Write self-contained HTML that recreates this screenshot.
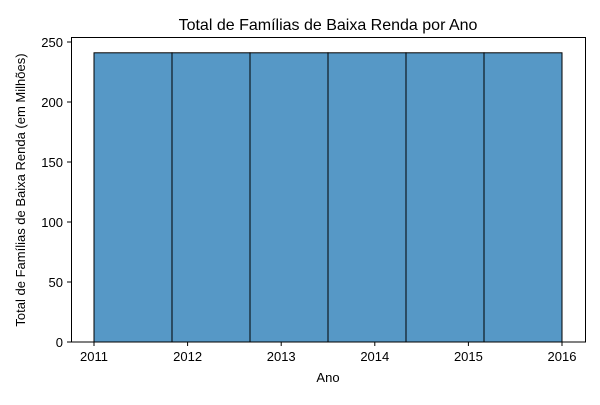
<!DOCTYPE html>
<html><head><meta charset="utf-8"><style>
body{margin:0;background:#fff;font-family:"Liberation Sans","DejaVu Sans",sans-serif}
</style></head><body>
<svg width="600" height="400" xmlns="http://www.w3.org/2000/svg">
<rect x="0" y="0" width="600" height="400" fill="#fff"/>
<g id="bars"></g>
<g id="axes"></g>
<rect x="71.5" y="37.5" width="514" height="304.5" fill="none" stroke="#000" stroke-width="1"/>
<text x="328" y="30" text-anchor="middle" font-size="16">Total de Famílias de Baixa Renda por Ano</text>
<text x="328" y="382" text-anchor="middle" font-size="13">Ano</text>
<text transform="translate(25,190) rotate(-90)" text-anchor="middle" font-size="13">Total de Famílias de Baixa Renda (em Milhões)</text>
</svg>
<script>
const binStarts=[2011,2011.8333,2012.6667,2013.5,2014.3333,2015.1667];
const binWidth=5/6;
const counts=[241,241,241,241,241,241];
const xTicks=[2011,2012,2013,2014,2015,2016];
const yTicks=[0,50,100,150,200,250];
const NS="http://www.w3.org/2000/svg";
const xs=v=>94+(v-2011)*93.6;
const ys=v=>342-v*1.2;
const bars=document.getElementById('bars');
binStarts.forEach((b,i)=>{
const r=document.createElementNS(NS,'rect');
r.setAttribute('x',xs(b));r.setAttribute('y',ys(counts[i]));
r.setAttribute('width',xs(b+binWidth)-xs(b));r.setAttribute('height',ys(0)-ys(counts[i]));
r.setAttribute('fill','#5698c6');r.setAttribute('stroke','#000');r.setAttribute('stroke-width','1');


bars.appendChild(r);});
const ax=document.getElementById('axes');
xTicks.forEach(t=>{
const l=document.createElementNS(NS,'line');
l.setAttribute('x1',xs(t));l.setAttribute('x2',xs(t));l.setAttribute('y1',342);l.setAttribute('y2',346);l.setAttribute('stroke','#000');


ax.appendChild(l);
const s=document.createElementNS(NS,'text');
s.setAttribute('x',xs(t));s.setAttribute('y',361);s.setAttribute('text-anchor','middle');s.setAttribute('font-size','13');s.textContent=t;


ax.appendChild(s);});
yTicks.forEach(t=>{
const l=document.createElementNS(NS,'line');
l.setAttribute('x1',67);l.setAttribute('x2',71);l.setAttribute('y1',ys(t));l.setAttribute('y2',ys(t));l.setAttribute('stroke','#000');


ax.appendChild(l);
const s=document.createElementNS(NS,'text');
s.setAttribute('x',63);s.setAttribute('y',ys(t)+5);s.setAttribute('text-anchor','end');s.setAttribute('font-size','13');s.textContent=t;


ax.appendChild(s);});
</script>
</body></html>
